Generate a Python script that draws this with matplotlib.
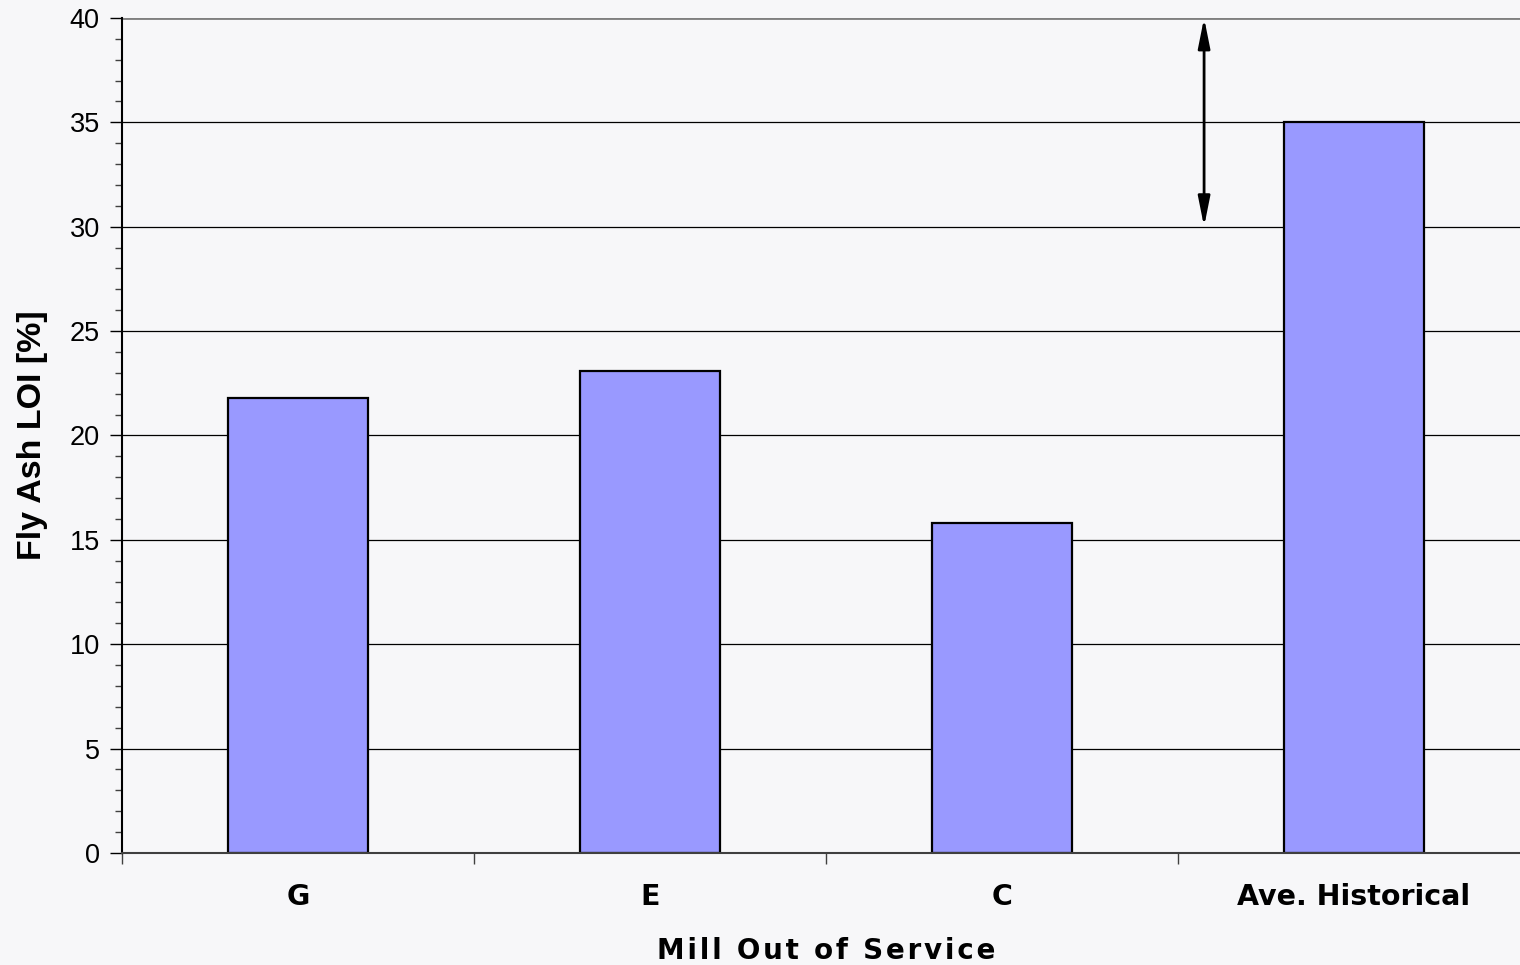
import numpy as np
import matplotlib.pyplot as plt
from matplotlib.ticker import MultipleLocator, FixedLocator, NullFormatter

# mill out of service vs. fly ash loss on ignition
mills = ['G', 'E', 'C', 'Ave. Historical']
loi = [21.8, 23.1, 15.8, 35.0]

# double arrow marking the gap above the historical average
arrow_x = 2.574
arrow_span = (30, 40)

plt.rcParams['font.family'] = ['Liberation Sans', 'DejaVu Sans']


def spaced(s, gap='\u200a'):
    # loose letter spacing for the axis title
    return gap.join(s)


fig = plt.figure(figsize=(15.2, 9.65), dpi=100)
fig.patch.set_facecolor('#f7f7f9')
ax = fig.add_axes([0.0803, 0.1161, 0.9263, 0.8653])
ax.set_facecolor('none')

x = np.arange(len(mills))
ax.bar(x, loi, width=0.4, color='#9999ff', edgecolor='black', linewidth=1.6, zorder=3)

ax.set_xlim(-0.5, len(mills) - 0.5)
ax.set_ylim(0, 40)

# horizontal grid at the major ticks
ax.yaxis.set_major_locator(MultipleLocator(5))
ax.yaxis.set_minor_locator(MultipleLocator(1))
ax.grid(axis='y', which='major', color='black', linewidth=0.9, zorder=1)
ax.axhline(40, color='#808080', linewidth=2, zorder=2)

for side in ['top', 'right']:
    ax.spines[side].set_visible(False)
ax.spines['left'].set_color('black')
ax.spines['left'].set_linewidth(1.5)
ax.spines['bottom'].set_color('#404040')
ax.spines['bottom'].set_linewidth(1.5)
ax.spines['left'].set_zorder(4)
ax.spines['bottom'].set_zorder(4)

ax.tick_params(axis='y', which='major', direction='out', length=9, width=1,
               labelsize=19.5, pad=7, colors='black')
ax.tick_params(axis='y', which='minor', direction='out', length=5, width=1, color='#404040')

# category ticks sit on the boundaries, labels at the centres
ax.xaxis.set_major_locator(FixedLocator(x))
ax.set_xticklabels(mills, fontsize=20.5, fontweight='bold', family='DejaVu Sans')
ax.tick_params(axis='x', which='major', length=0, pad=21.5)
ax.xaxis.set_minor_locator(FixedLocator(np.arange(-0.5, len(mills), 1.0)))
ax.xaxis.set_minor_formatter(NullFormatter())
ax.tick_params(axis='x', which='minor', direction='out', length=8, width=1, color='#404040')

ax.set_xlabel(spaced('Mill Out of Service'), fontsize=20, fontweight='bold',
              family='DejaVu Sans', labelpad=19)
ax.set_ylabel('Fly Ash LOI [%]', fontsize=24.5, fontweight='bold', labelpad=15.5)

ax.annotate('', xy=(arrow_x, arrow_span[1]), xytext=(arrow_x, arrow_span[0]),
            arrowprops=dict(arrowstyle='<|-|>,head_length=0.9,head_width=0.18',
                            color='black', lw=2, mutation_scale=20,
                            shrinkA=0, shrinkB=0),
            annotation_clip=False, zorder=5)

fig.savefig('out.png', dpi=100, facecolor=fig.get_facecolor())
